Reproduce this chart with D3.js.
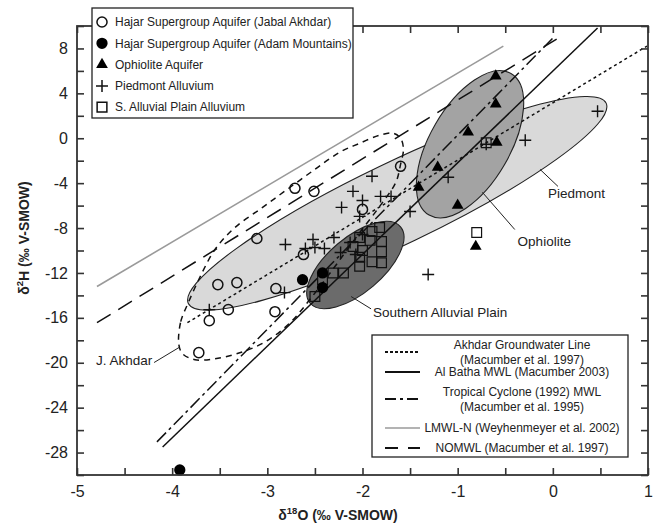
<!DOCTYPE html>
<html>
<head>
<meta charset="utf-8">
<script src="https://cdnjs.cloudflare.com/ajax/libs/d3/7.8.5/d3.min.js"></script>
<style>
  body { margin: 0; background: #fff; }
  svg { font-family: "Liberation Sans", Arial, sans-serif; }
</style>
</head>
<body>
<div id="chart"></div>
<script>
// sample values, d18O / d2H (permil V-SMOW)
var jabalAkhdar = [[-2.71, -4.46], [-2.51, -4.73], [-3.11, -8.93], [-2.62, -10.36], [-3.52, -13.04],
    [-3.32, -12.86], [-2.91, -13.39], [-3.41, -15.27], [-3.61, -16.25], [-2.92, -15.45],
    [-3.72, -19.1], [-2.0, -6.34], [-1.60, -2.5]];
var adamMountains = [[-2.63, -12.6], [-2.42, -12.0], [-2.42, -13.3], [-3.92, -29.55]];
var ophioliteAquifer = [[-0.60, 5.54], [-0.60, 3.04], [-0.89, 0.54], [-0.59, -0.36], [-1.21, -2.59],
    [-1.41, -4.38], [-1.0, -5.98], [-0.81, -9.64]];
var piedmontAlluvium = [[-1.90, -3.39], [-2.10, -4.73], [-2.0, -5.54], [-2.22, -6.16], [-1.81, -5.18],
    [-1.70, -5.18], [-2.03, -6.96], [-2.81, -9.46], [-2.52, -9.02], [-2.50, -9.73], [-2.40, -9.82],
    [-2.30, -8.84], [-2.60, -9.82], [-2.23, -10.18], [-2.13, -9.29], [-2.07, -10.36], [-2.82, -13.75],
    [-3.61, -15.27], [-1.10, -3.48], [-0.70, -0.54], [-0.29, -0.18], [-1.50, -6.52], [0.47, 2.41],
    [-1.31, -12.14], [-2.0, -8.57]];
var alluvialPlain = [[-1.82, -7.95], [-1.90, -8.3], [-2.03, -8.84], [-1.92, -9.1], [-1.80, -9.2],
    [-2.10, -9.64], [-2.0, -10.0], [-1.80, -10.1], [-2.03, -10.6], [-1.90, -11.0], [-1.80, -11.1],
    [-2.03, -11.4], [-2.31, -12.0], [-2.20, -12.0], [-2.42, -12.6], [-2.50, -14.1], [-0.80, -8.4],
    [-0.70, -0.4]];

// water lines: end points
var akhdarLine = [[-3.84, -16.43], [0.99, 8.21]];
var alBathaLine = [[-4.10, -27.5], [0.47, 9.82]];
var cycloneLine = [[-4.16, -27.05], [0.02, 9.1]];
var lmwlLine = [[-4.79, -13.21], [-0.52, 8.21]];
var nomwlLine = [[-4.79, -16.43], [0.04, 8.84]];

// groups: major axis tips and minor/major ratio
var piedmontTips = [[-3.83, -14.73], [0.56, 3.13]];
var ophioliteTips = [[-1.30, -6.84], [-0.44, 5.77]];
var southernTips = [[-2.55, -14.70], [-1.60, -7.89]];
var akhdarOutline = [[-3.93, -18.39], [-3.91, -16.34], [-3.83, -14.64], [-3.71, -12.41], [-3.55, -9.91],
    [-3.34, -7.95], [-3.05, -6.16], [-2.79, -4.55], [-2.50, -2.77], [-2.24, -1.25], [-2.03, -0.45],
    [-1.82, 0.27], [-1.68, 0.45], [-1.60, 0], [-1.57, -0.98], [-1.60, -2.32], [-1.65, -3.93],
    [-1.82, -6.07], [-2.06, -8.75], [-2.29, -11.43], [-2.53, -14.11], [-2.76, -16.43],
    [-3.02, -18.13], [-3.29, -19.11], [-3.55, -19.64], [-3.76, -19.73], [-3.89, -19.2]];

var xTicks = d3.range(-5, 1.01, 0.5);
var yTicks = d3.range(-30, 10.01, 2);
var pointLabels = ["Hajar Supergroup Aquifer (Jabal Akhdar)", "Hajar Supergroup Aquifer (Adam Mountains)",
    "Ophiolite Aquifer", "Piedmont Alluvium", "S. Alluvial Plain Alluvium"];
var lineLabels = [["Akhdar Groundwater Line", "(Macumber et al. 1997)"], ["Al Batha MWL (Macumber 2003)"],
    ["Tropical Cyclone (1992) MWL", "(Macumber et al. 1995)"], ["LMWL-N (Weyhenmeyer et al. 2002)"],
    ["NOMWL (Macumber et al. 1997)"]];

var svgWidth = 659;
var svgHeight = 528;
var margin = { top: 26, right: 11, bottom: 53, left: 77 };
var width = svgWidth - margin.left - margin.right;
var height = svgHeight - margin.top - margin.bottom;

var svg = d3.select("#chart")
    .append("svg")
    .attr("width", svgWidth)
    .attr("height", svgHeight);

var chartGroup = svg.append("g")
    .attr("transform", `translate(${margin.left}, ${margin.top})`);

var x = d3.scaleLinear().domain([-5, 1]).range([0, width]);
var y = d3.scaleLinear().domain([-30, 10]).range([height, 0]);

// line styles for the water lines
var lineStyles = [
    { data: akhdarLine, color: "#111", width: 1.5, dash: "3,3" },
    { data: alBathaLine, color: "#111", width: 1.5, dash: null },
    { data: cycloneLine, color: "#111", width: 1.5, dash: "13,4,3,4" },
    { data: lmwlLine, color: "#9a9a9a", width: 1.6, dash: null },
    { data: nomwlLine, color: "#111", width: 1.5, dash: "16,9" }
];

// ellipses
function drawEllipse(tips, ratio, fill) {
    var x1 = x(tips[0][0]), y1 = y(tips[0][1]);
    var x2 = x(tips[1][0]), y2 = y(tips[1][1]);
    var cx = (x1 + x2) / 2, cy = (y1 + y2) / 2;
    var a = Math.hypot(x2 - x1, y2 - y1) / 2;
    var ang = Math.atan2(y2 - y1, x2 - x1) * 180 / Math.PI;
    chartGroup.append("ellipse")
        .attr("cx", cx)
        .attr("cy", cy)
        .attr("rx", a)
        .attr("ry", a * ratio)
        .attr("transform", `rotate(${ang}, ${cx}, ${cy})`)
        .attr("fill", fill)
        .attr("stroke", "#222")
        .attr("stroke-width", 1.1);
}
drawEllipse(piedmontTips, 0.177, "#d9d9d9");
drawEllipse(ophioliteTips, 0.49, "#a3a3a3");
drawEllipse(southernTips, 0.465, "#6b6b6b");

// water lines
lineStyles.forEach(function (s) {
    chartGroup.append("line")
        .attr("x1", x(s.data[0][0]))
        .attr("y1", y(s.data[0][1]))
        .attr("x2", x(s.data[1][0]))
        .attr("y2", y(s.data[1][1]))
        .attr("stroke", s.color)
        .attr("stroke-width", s.width)
        .attr("stroke-dasharray", s.dash);
});

// J. Akhdar dashed outline
chartGroup.append("path")
    .datum(akhdarOutline)
    .attr("d", d3.line().x(d => x(d[0])).y(d => y(d[1])).curve(d3.curveCatmullRomClosed.alpha(0.5)))
    .attr("fill", "none")
    .attr("stroke", "#111")
    .attr("stroke-width", 1.5)
    .attr("stroke-dasharray", "6,5");

// markers
var circleSym = d3.symbol().type(d3.symbolCircle).size(80);
var dotSym = d3.symbol().type(d3.symbolCircle).size(100);
var triSym = d3.symbol().type(d3.symbolTriangle).size(60);
var squareSym = d3.symbol().type(d3.symbolSquare).size(95);
var crossPath = "M-6,0H6M0,-6V6";

function drawMarks(data, path, fill, stroke, sw) {
    chartGroup.append("g")
        .selectAll("path")
        .data(data)
        .enter()
        .append("path")
        .attr("transform", d => `translate(${x(d[0])}, ${y(d[1])})`)
        .attr("d", path)
        .attr("fill", fill)
        .attr("stroke", stroke)
        .attr("stroke-width", sw);
}
drawMarks(alluvialPlain, squareSym(), "none", "#111", 1.2);
drawMarks(piedmontAlluvium, crossPath, "none", "#111", 1.4);
drawMarks(jabalAkhdar, circleSym(), "none", "#111", 1.5);
drawMarks(adamMountains, dotSym(), "#000", "none", 0);
drawMarks(ophioliteAquifer, triSym(), "#000", "none", 0);

// group labels with leader lines
var groupLabels = [
    { text: "Piedmont", from: [-0.135, -2.77], to: [0.054, -4.29], at: [-0.05, -5.3], anchor: "start" },
    { text: "Ophiolite", from: [-0.74, -4.82], to: [-0.40, -8.13], at: [-0.37, -9.6], anchor: "start" },
    { text: "Southern Alluvial Plain", from: [-2.12, -14.1], to: [-1.91, -15.2], at: [-1.89, -15.9], anchor: "start" },
    { text: "J. Akhdar", from: [-3.92, -18.6], to: [-4.19, -19.98], at: [-4.21, -20.2], anchor: "end" }
];
groupLabels.forEach(function (l) {
    chartGroup.append("line")
        .attr("x1", x(l.from[0]))
        .attr("y1", y(l.from[1]))
        .attr("x2", x(l.to[0]))
        .attr("y2", y(l.to[1]))
        .attr("stroke", "#222")
        .attr("stroke-width", 1);
    chartGroup.append("text")
        .attr("x", x(l.at[0]))
        .attr("y", y(l.at[1]))
        .attr("text-anchor", l.anchor)
        .attr("font-size", 13.5)
        .attr("fill", "#222")
        .text(l.text);
});

// axes, ticks pointing inward
var fmt = d => Number.isInteger(d) ? String(d) : "";
var yFmt = d => d % 4 === 0 && d > -30 ? String(d) : "";

var bottomAxis = chartGroup.append("g")
    .attr("transform", `translate(0, ${height})`)
    .call(d3.axisBottom(x).tickValues(xTicks).tickSizeInner(-7).tickSizeOuter(0).tickPadding(11).tickFormat(fmt));
var topAxis = chartGroup.append("g")
    .call(d3.axisTop(x).tickValues(xTicks).tickSizeInner(-7).tickSizeOuter(0).tickFormat(""));
var leftAxis = chartGroup.append("g")
    .call(d3.axisLeft(y).tickValues(yTicks).tickSizeInner(-7).tickSizeOuter(0).tickPadding(9).tickFormat(yFmt));
var rightAxis = chartGroup.append("g")
    .attr("transform", `translate(${width}, 0)`)
    .call(d3.axisRight(y).tickValues(yTicks).tickSizeInner(-7).tickSizeOuter(0).tickFormat(""));

[bottomAxis, topAxis, leftAxis, rightAxis].forEach(function (ax) {
    ax.select(".domain").remove();
    ax.selectAll("line").attr("stroke", "#333").attr("stroke-width", 1.6);
    ax.selectAll("text")
        .attr("font-size", 16)
        .attr("font-family", "'Liberation Sans', Arial, sans-serif")
        .attr("fill", "#222");
});

chartGroup.append("rect")
    .attr("width", width)
    .attr("height", height)
    .attr("fill", "none")
    .attr("stroke", "#333")
    .attr("stroke-width", 1.8);

// axis titles
var xTitle = svg.append("text")
    .attr("x", 338)
    .attr("y", 520)
    .attr("text-anchor", "middle")
    .attr("font-size", 14)
    .attr("font-weight", "bold")
    .attr("fill", "#222");
xTitle.append("tspan").text("δ");
xTitle.append("tspan").attr("font-size", 9.5).attr("dy", -6).text("18");
xTitle.append("tspan").attr("dy", 6).text("O (‰ V-SMOW)");

var yTitle = svg.append("text")
    .attr("transform", "translate(29, 238) rotate(-90)")
    .attr("text-anchor", "middle")
    .attr("font-size", 14)
    .attr("font-weight", "bold")
    .attr("fill", "#222");
yTitle.append("tspan").text("δ");
yTitle.append("tspan").attr("font-size", 9.5).attr("dy", -6).text("2");
yTitle.append("tspan").attr("dy", 6).text("H (‰ V-SMOW)");

// symbol legend
var legend1 = svg.append("g").attr("transform", "translate(92, 8)");
legend1.append("rect")
    .attr("width", 261)
    .attr("height", 110)
    .attr("fill", "#fff")
    .attr("stroke", "#222")
    .attr("stroke-width", 1.3);
var legendMarks = [
    { path: circleSym(), fill: "none", stroke: "#111" },
    { path: dotSym(), fill: "#000", stroke: "none" },
    { path: triSym(), fill: "#000", stroke: "none" },
    { path: crossPath, fill: "none", stroke: "#111" },
    { path: squareSym(), fill: "none", stroke: "#111" }
];
pointLabels.forEach(function (label, i) {
    var row = legend1.append("g").attr("transform", `translate(0, ${14 + i * 21.3})`);
    row.append("path")
        .attr("transform", "translate(10, 0)")
        .attr("d", legendMarks[i].path)
        .attr("fill", legendMarks[i].fill)
        .attr("stroke", legendMarks[i].stroke)
        .attr("stroke-width", 1.5);
    row.append("text")
        .attr("x", 23)
        .attr("dy", "0.35em")
        .attr("font-size", 12)
        .attr("fill", "#222")
        .text(label);
});

// line legend
var legend2 = svg.append("g").attr("transform", "translate(372, 335)");
legend2.append("rect")
    .attr("width", 256)
    .attr("height", 122)
    .attr("fill", "#fff")
    .attr("stroke", "#222")
    .attr("stroke-width", 1.3);
var rowCenters = [17, 37, 64, 93, 113];
var legendDash = ["3,2", null, "11,4,3,4", null, "13,10"];
var legendColor = ["#111", "#111", "#111", "#9a9a9a", "#111"];
lineLabels.forEach(function (lines, i) {
    var cy = rowCenters[i];
    legend2.append("line")
        .attr("x1", 13)
        .attr("x2", 48)
        .attr("y1", cy)
        .attr("y2", cy)
        .attr("stroke", legendColor[i])
        .attr("stroke-width", i === 3 ? 1.4 : 1.8)
        .attr("stroke-dasharray", legendDash[i]);
    lines.forEach(function (t, j) {
        legend2.append("text")
            .attr("x", 150)
            .attr("y", cy + (lines.length === 2 ? (j === 0 ? -7.5 : 7.5) : 0))
            .attr("dy", "0.35em")
            .attr("text-anchor", "middle")
            .attr("font-size", 12)
            .attr("fill", "#222")
            .text(t);
    });
});
</script>
</body>
</html>
